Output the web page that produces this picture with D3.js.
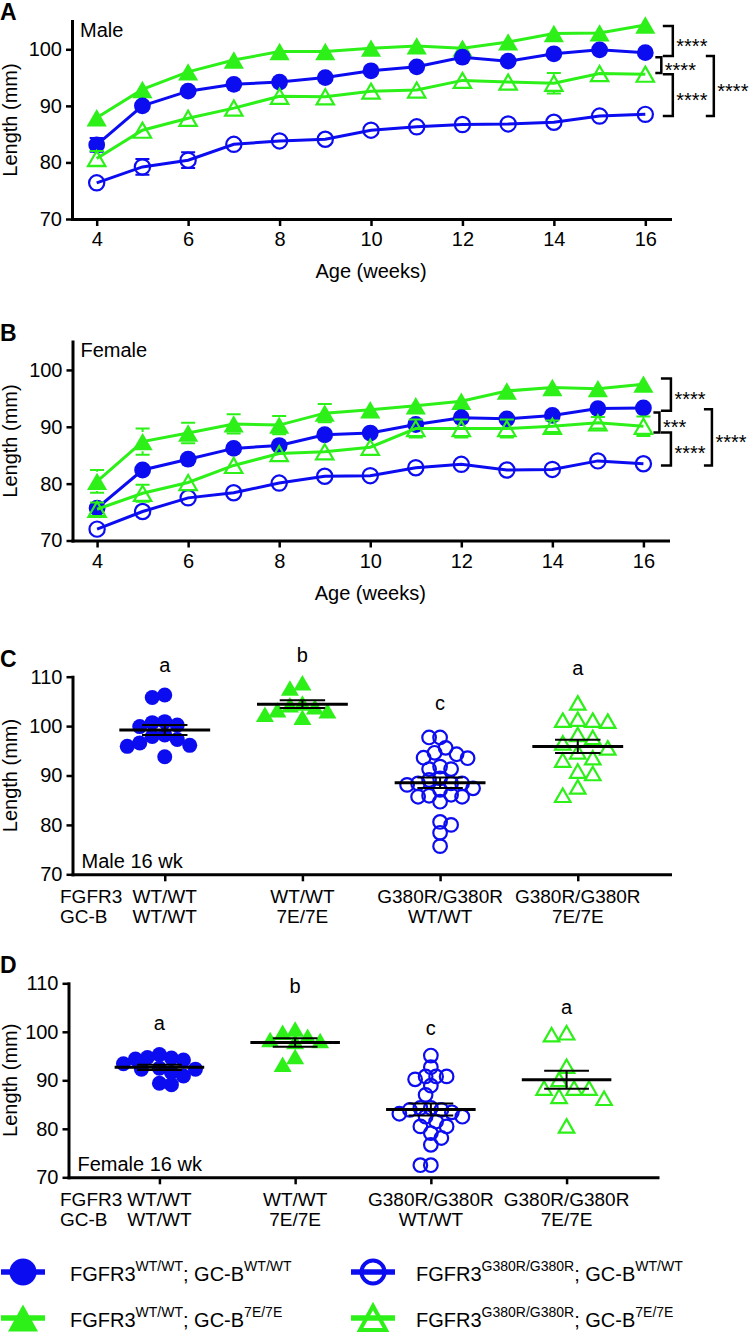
<!DOCTYPE html>
<html><head><meta charset="utf-8">
<script src="https://cdn.jsdelivr.net/npm/d3@7"></script>
<style>
body{margin:0;background:#fff;}
svg{display:block;}
</style></head><body>
<svg id="chart" width="753" height="1334"></svg>
<script>
// ===================== DATA =====================
const weeks = [4, 5, 6, 7, 8, 9, 10, 11, 12, 13, 14, 15, 16];
const weekTicks = [4, 6, 8, 10, 12, 14, 16];

// Panel A – male, mean length (mm)
const maleWtWt = [83.1, 90.0, 92.6, 93.8, 94.2, 95.0, 96.2, 96.9, 98.6, 97.9, 99.2, 99.9, 99.4];
const maleWt7e = [87.9, 92.9, 96.0, 98.1, 99.6, 99.6, 100.2, 100.6, 100.2, 101.3, 102.8, 102.9, 104.3];
const maleGWt  = [76.4, 79.2, 80.4, 83.2, 83.8, 84.1, 85.7, 86.3, 86.7, 86.8, 87.1, 88.2, 88.5];
const maleG7e  = [80.7, 85.7, 87.8, 89.6, 91.7, 91.6, 92.6, 92.8, 94.5, 94.2, 94.0, 95.7, 95.6];
// SEM
const maleWtWtErr = [1.2, 0.7, 0.7, 0.6, 0.6, 0.6, 0.7, 0.7, 0.8, 0.8, 0.8, 0.9, 0.9];
const maleWt7eErr = [0.7, 0.6, 0.6, 0.6, 0.6, 0.6, 0.6, 0.6, 0.6, 0.6, 0.6, 0.6, 0.6];
const maleGWtErr  = [0.7, 1.4, 1.4, 0.7, 0.6, 0.6, 0.6, 0.6, 0.6, 0.6, 0.6, 0.6, 0.6];
const maleG7eErr  = [1.3, 0.8, 0.8, 0.8, 0.8, 0.8, 0.8, 0.8, 0.9, 0.9, 1.8, 0.9, 0.9];

// Panel B – female
const femWtWt = [75.7, 82.4, 84.3, 86.2, 86.7, 88.6, 88.9, 90.4, 91.6, 91.4, 92.0, 93.2, 93.3];
const femWt7e = [80.4, 87.4, 88.9, 90.5, 90.3, 92.4, 93.0, 93.7, 94.5, 96.3, 96.9, 96.7, 97.5];
const femGWt  = [72.0, 75.1, 77.5, 78.4, 80.1, 81.3, 81.4, 82.8, 83.4, 82.4, 82.5, 84.0, 83.5];
const femG7e  = [75.5, 78.3, 80.2, 83.2, 85.3, 85.6, 86.4, 89.7, 89.7, 89.7, 90.1, 90.7, 90.1];
const femWtWtErr = [0.8, 0.7, 0.6, 0.6, 0.6, 0.7, 0.7, 0.7, 0.7, 0.7, 0.7, 0.7, 0.7];
const femWt7eErr = [2.0, 2.3, 1.8, 1.7, 1.6, 1.6, 0.8, 0.8, 0.8, 0.8, 0.8, 0.8, 0.8];
const femGWtErr  = [0.6, 0.6, 0.6, 0.6, 0.6, 0.6, 0.6, 0.6, 0.6, 0.6, 0.6, 0.6, 0.6];
const femG7eErr  = [1.2, 1.5, 0.8, 0.8, 0.8, 0.8, 0.8, 1.6, 1.6, 1.6, 1.0, 1.0, 1.7];

// significance brackets: [from, to, label, nesting level]
const maleSig = [[104.1, 98.8, "****", 1], [98.6, 95.8, "****", 0], [95.6, 88.2, "****", 1], [98.8, 88.2, "****", 2]];
const femSig  = [[98.5, 92.8, "****", 1], [92.5, 89.0, "***", 0], [89.0, 83.2, "****", 1], [93.1, 83.2, "****", 2]];

// Panels C/D – 16 wk individual values
const fgfr3Labels = ["WT/WT", "WT/WT", "G380R/G380R", "G380R/G380R"];
const gcbLabels   = ["WT/WT", "7E/7E", "WT/WT", "7E/7E"];
const groupLetters = ["a", "b", "c", "a"];

const male16WtWt = [105.8, 106.3, 100.9, 100.7, 99.9, 100.2, 97.3, 98.2, 96.6, 95.9, 96.1, 97.9, 93.8];
const male16Wt7e = [108.8, 107.7, 104.7, 103.9, 103.1, 103.3, 104.3, 102.4, 101.8];
const male16GWt  = [97.7, 97.7, 95.6, 94.6, 94.3, 93.5, 93.6, 91.8, 91.3, 91.3, 89.1, 89.4, 88.1, 88.4, 88.4, 88.4, 87.4, 86.1, 85.9, 87.1, 84.7, 85.7, 85.7, 80.0, 80.6, 78.4, 75.7];
const male16G7e  = [104.7, 101.2, 101.4, 101.0, 101.2, 97.7, 98.3, 96.6, 95.6, 94.8, 93.6, 93.1, 90.9, 90.4, 87.7, 86.0];
const maleLetterHeights = [111.0, 113.0, 103.3, 110.3];

const fem16WtWt = [95.3, 94.4, 94.7, 94.2, 94.6, 92.3, 93.4, 92.5, 92.3, 90.9, 89.4, 89.1, 91.6];
const fem16Wt7e = [99.9, 100.6, 99.1, 98.0, 98.4, 98.2, 94.9, 93.3];
const fem16GWt  = [95.1, 92.7, 90.8, 90.8, 90.8, 90.2, 88.9, 87.0, 83.9, 83.9, 84.3, 84.3, 82.5, 83.1, 82.5, 83.4, 80.5, 80.5, 81.5, 79.1, 78.1, 76.7, 72.5, 72.5];
const fem16G7e  = [99.4, 99.8, 92.9, 90.2, 88.4, 88.4, 88.4, 86.3, 86.7, 80.6];
const femLetterHeights = [100.4, 108.0, 99.4, 103.6];

const lineTicks = [70, 80, 90, 100];
const dotTicks = [70, 80, 90, 100, 110];

// ===================== STYLE =====================
const FONT = '"Liberation Sans", Arial, Helvetica, sans-serif';
const BLUE = "#0c0cf0";
const GREEN = "#2cf018";
// series order = draw order
const seriesStyle = {
  wt7e: {color: GREEN, shape: "tri", filled: true},
  wtwt: {color: BLUE, shape: "circ", filled: true},
  gwt:  {color: BLUE, shape: "circ", filled: false},
  g7e:  {color: GREEN, shape: "tri", filled: false}
};

const svg = d3.select("#chart").attr("font-family", FONT);

function markerDims(st, s) {
  if (st.shape === "circ") {
    const r = (st.filled ? 7.5 : 6.8) * s;
    return {up: r + 1, down: r + 1};
  }
  const h = (st.filled ? 15.5 : 13.5) * s;
  return {up: h / 2 + 1, down: h / 2 + 1};
}

function marker(g, st, x, y, scale) {
  const s = scale || 1;
  if (st.shape === "circ") {
    g.append("circle").attr("cx", x).attr("cy", y)
      .attr("r", (st.filled ? 7.5 : 6.8) * s)
      .attr("fill", st.filled ? st.color : "none")
      .attr("stroke", st.filled ? "none" : st.color)
      .attr("stroke-width", 2.2);
  } else {
    const w = (st.filled ? 18 : 15.5) * s, h = (st.filled ? 15.5 : 13.5) * s;
    g.append("path")
      .attr("d", `M${x},${y - h / 2}L${x + w / 2},${y + h / 2}L${x - w / 2},${y + h / 2}Z`)
      .attr("fill", st.filled ? st.color : "none")
      .attr("stroke", st.filled ? "none" : st.color)
      .attr("stroke-width", 2.2)
      .attr("stroke-linejoin", "miter");
  }
}

function styleAxis(g) {
  g.attr("font-family", FONT).attr("font-size", 20);
  g.select(".domain").attr("stroke", "#000").attr("stroke-width", 3).attr("stroke-linecap", "square");
  g.selectAll(".tick line").attr("stroke", "#000").attr("stroke-width", 2.5);
  g.selectAll(".tick text").attr("fill", "#000");
}

function yLabel(cx, top, bottom) {
  svg.append("text").attr("transform", `translate(${cx},${(top + bottom) / 2}) rotate(-90)`)
    .attr("text-anchor", "middle").attr("font-size", 20).text("Length (mm)");
}

function panelLetter(t, y) {
  svg.append("text").attr("x", 0).attr("y", y).attr("font-size", 23).attr("font-weight", "bold").text(t);
}

// ===================== LINE PANELS =====================
function linePanel(cfg) {
  const x = d3.scaleLinear().domain([3.46, 16.54]).range([cfg.left, cfg.right]);
  const y = d3.scaleLinear().domain([70, 105]).range([cfg.bottom, cfg.top]);
  const g = svg.append("g");

  const gx = g.append("g").attr("transform", `translate(0,${cfg.bottom})`)
    .call(d3.axisBottom(x).tickValues(weekTicks).tickSize(7).tickSizeOuter(0).tickPadding(6));
  styleAxis(gx);
  const gy = g.append("g").attr("transform", `translate(${cfg.left},0)`)
    .call(d3.axisLeft(y).tickValues(lineTicks).tickSize(6).tickSizeOuter(0).tickPadding(4));
  styleAxis(gy);

  g.append("text").attr("x", (cfg.left + cfg.right) / 2).attr("y", cfg.bottom + 59)
    .attr("text-anchor", "middle").attr("font-size", 20).text("Age (weeks)");
  yLabel(17, cfg.top, cfg.bottom);
  panelLetter(cfg.letter, cfg.top - 1);
  g.append("text").attr("x", cfg.left + 8).attr("y", cfg.top + 15.5).attr("font-size", 20).text(cfg.sex);

  const MS = 1.12;
  const line = d3.line().x((d, i) => x(weeks[i])).y(d => y(d));
  Object.keys(seriesStyle).forEach(k => {
    const st = seriesStyle[k];
    const vals = cfg.series[k], errs = cfg.errs[k];
    const dims = markerDims(st, MS);
    const sg = g.append("g");
    sg.append("path").datum(vals).attr("d", line).attr("fill", "none")
      .attr("stroke", st.color).attr("stroke-width", 3);
    vals.forEach((v, i) => {
      const cx = x(weeks[i]), cy = y(v);
      const y1 = y(v + errs[i]), y2 = y(v - errs[i]);
      let d = "";
      if (cy - y1 > dims.up) d += `M${cx},${y1}V${cy - dims.up}`;
      if (cy - y1 > dims.up - 3) d += `M${cx - 7},${y1}H${cx + 7}`;
      if (y2 - cy > dims.down) d += `M${cx},${y2}V${cy + dims.down}`;
      if (y2 - cy > dims.down - 3) d += `M${cx - 7},${y2}H${cx + 7}`;
      if (d) sg.append("path").attr("d", d).attr("stroke", st.color).attr("stroke-width", 2).attr("fill", "none");
    });
    vals.forEach((v, i) => marker(sg, st, x(weeks[i]), y(v), MS));
  });

  // significance brackets
  const tierX = [16, 27.5, 68.5];
  const tierTick = [6, 10, 8];
  cfg.sig.forEach(([a, b, lab, tier]) => {
    const bx = x(16) + tierX[tier];
    const y0 = y(a), y1 = y(b), tl = tierTick[tier];
    g.append("path").attr("d", `M${bx - tl},${y0}H${bx}V${y1}H${bx - tl}`)
      .attr("fill", "none").attr("stroke", "#000").attr("stroke-width", 2.5);
    g.append("text").attr("x", bx + 3.5).attr("y", (y0 + y1) / 2 + 11.5)
      .attr("font-size", 20).text(lab);
  });
}

linePanel({
  left: 72, right: 670, top: 21, bottom: 219, letter: "A", sex: "Male",
  series: {wtwt: maleWtWt, wt7e: maleWt7e, gwt: maleGWt, g7e: maleG7e},
  errs: {wtwt: maleWtWtErr, wt7e: maleWt7eErr, gwt: maleGWtErr, g7e: maleG7eErr},
  sig: maleSig
});
linePanel({
  left: 72.5, right: 668, top: 341.5, bottom: 540.5, letter: "B", sex: "Female",
  series: {wtwt: femWtWt, wt7e: femWt7e, gwt: femGWt, g7e: femG7e},
  errs: {wtwt: femWtWtErr, wt7e: femWt7eErr, gwt: femGWtErr, g7e: femG7eErr},
  sig: femSig
});

// ===================== DOT PANELS =====================
function swarmOnce(vals, y, d) {
  const pts = vals.map(v => ({v, py: y(v), dx: 0})).sort((a, b) => a.py - b.py);
  const placed = [];
  const h = d / 2;
  pts.forEach((p, i) => {
    const pref = i % 2 === 0 ? 1 : -1;
    for (let k = 0; k < 60; k++) {
      const m = Math.ceil(k / 2);
      const off = k === 0 ? 0 : (k % 2 === 1 ? pref : -pref) * m * h;
      const hit = placed.some(q => (q.dx - off) ** 2 + (q.py - p.py) ** 2 < (d * 0.97) ** 2);
      if (!hit) { p.dx = off; break; }
    }
    placed.push(p);
  });
  return pts;
}
// shrink the separation until the swarm fits the column half-width
function swarm(vals, y, maxHalf) {
  let d = 15, pts;
  for (; d >= 6; d -= 0.5) {
    pts = swarmOnce(vals, y, d);
    if (d3.max(pts, p => Math.abs(p.dx)) <= maxHalf) break;
  }
  return pts;
}

function dotPanel(cfg) {
  const cats = [0, 1, 2, 3];
  const x = d3.scalePoint().domain(cats).range([cfg.left, cfg.right]).padding(0.67);
  const y = d3.scaleLinear().domain([70, 110]).range([cfg.bottom, cfg.top]);
  const g = svg.append("g");

  const gx = g.append("g").attr("transform", `translate(0,${cfg.bottom})`)
    .call(d3.axisBottom(x).tickSize(7).tickSizeOuter(0).tickFormat(""));
  styleAxis(gx);
  const gy = g.append("g").attr("transform", `translate(${cfg.left},0)`)
    .call(d3.axisLeft(y).tickValues(dotTicks).tickSize(6).tickSizeOuter(0).tickPadding(4));
  styleAxis(gy);

  yLabel(17, cfg.top, cfg.bottom);
  panelLetter(cfg.letter, cfg.top - 10);
  g.append("text").attr("x", cfg.left + 9).attr("y", cfg.bottom - 6).attr("font-size", 20).text(cfg.sex);

  const l1 = cfg.bottom + 28.5, l2 = l1 + 20;
  g.append("text").attr("x", 60).attr("y", l1).attr("font-size", 19).text("FGFR3");
  g.append("text").attr("x", 60).attr("y", l2).attr("font-size", 19).text("GC-B");
  cats.forEach(c => {
    g.append("text").attr("x", x(c)).attr("y", l1).attr("text-anchor", "middle").attr("font-size", 19).text(fgfr3Labels[c]);
    g.append("text").attr("x", x(c)).attr("y", l2).attr("text-anchor", "middle").attr("font-size", 19).text(gcbLabels[c]);
    g.append("text").attr("x", x(c)).attr("y", y(cfg.letterHeights[c])).attr("text-anchor", "middle")
      .attr("font-size", 20).text(groupLetters[c]);
  });

  const keys = ["wtwt", "wt7e", "gwt", "g7e"];
  const step = x.step();
  keys.forEach((k, c) => {
    const st = seriesStyle[k];
    const vals = cfg.groups[k];
    const cx = x(c);
    const pts = swarm(vals, y, 38);
    const sg = g.append("g");
    pts.forEach(p => marker(sg, st, cx + p.dx, p.py));
    const mean = d3.mean(vals);
    const sem = d3.deviation(vals) / Math.sqrt(vals.length);
    const ym = y(mean), yt = y(mean + sem), yb = y(mean - sem);
    const mw = step * 0.33, sw = step * 0.165;
    sg.append("path").attr("d", `M${cx - mw},${ym}H${cx + mw}`).attr("stroke", "#000").attr("stroke-width", 3);
    sg.append("path").attr("d", `M${cx - sw},${yt}H${cx + sw}M${cx - sw},${yb}H${cx + sw}M${cx},${yt}V${yb}`)
      .attr("stroke", "#000").attr("stroke-width", 2).attr("fill", "none");
  });
}

dotPanel({
  left: 72.5, right: 670, top: 676.7, bottom: 874.3, letter: "C", sex: "Male 16 wk",
  groups: {wtwt: male16WtWt, wt7e: male16Wt7e, gwt: male16GWt, g7e: male16G7e},
  letterHeights: maleLetterHeights
});
dotPanel({
  left: 68.5, right: 657.5, top: 983.3, bottom: 1177.3, letter: "D", sex: "Female 16 wk",
  groups: {wtwt: fem16WtWt, wt7e: fem16Wt7e, gwt: fem16GWt, g7e: fem16G7e},
  letterHeights: femLetterHeights
});

// ===================== LEGEND =====================
const legendItems = [
  {key: "wtwt", a: "WT/WT", b: "WT/WT"},
  {key: "wt7e", a: "WT/WT", b: "7E/7E"},
  {key: "gwt", a: "G380R/G380R", b: "WT/WT"},
  {key: "g7e", a: "G380R/G380R", b: "7E/7E"}
];
const lg = svg.append("g");
legendItems.forEach((it, i) => {
  const col = i < 2 ? 0 : 1, row = i % 2;
  const x0 = col === 0 ? 0 : 350;
  const yc = row === 0 ? 1272 : 1318;
  const st = seriesStyle[it.key];
  lg.append("path").attr("d", `M${x0 + 1},${yc}H${x0 + 45}`).attr("stroke", st.color).attr("stroke-width", 5.5);
  if (st.shape === "circ") {
    lg.append("circle").attr("cx", x0 + 23).attr("cy", yc).attr("r", st.filled ? 13.5 : 11.5)
      .attr("fill", st.filled ? st.color : "none").attr("stroke", st.filled ? "none" : st.color).attr("stroke-width", 4);
  } else {
    const w = st.filled ? 30 : 26, h = st.filled ? 27 : 24;
    const cx = x0 + 23;
    lg.append("path").attr("d", `M${cx},${yc - h / 2}L${cx + w / 2},${yc + h / 2}L${cx - w / 2},${yc + h / 2}Z`)
      .attr("fill", st.filled ? st.color : "none").attr("stroke", st.filled ? "none" : st.color).attr("stroke-width", 4);
  }
  const t = lg.append("text").attr("x", x0 + (col === 0 ? 70 : 66)).attr("y", yc + 9).attr("font-size", 20);
  t.append("tspan").text("FGFR3");
  t.append("tspan").attr("font-size", 14).attr("dy", -10).text(it.a);
  t.append("tspan").attr("dy", 10).text("; GC-B");
  t.append("tspan").attr("font-size", 14).attr("dy", -10).text(it.b);
});
</script>
</body></html>
